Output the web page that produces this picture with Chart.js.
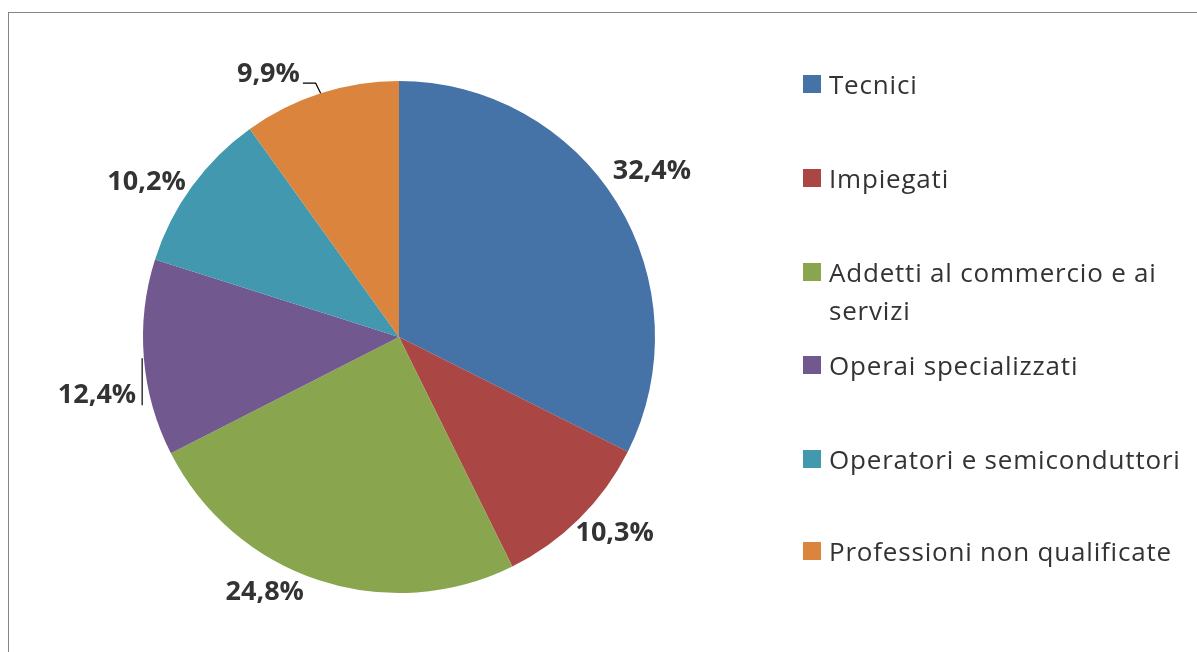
<!DOCTYPE html>
<html>
<head>
<meta charset="utf-8">
<script src="https://cdn.jsdelivr.net/npm/chart.js@4"></script>
<style>
    html, body { margin: 0; padding: 0; background: #fff; }
    #wrap { position: relative; width: 1197px; height: 652px; overflow: hidden; }
    #frame { position: absolute; left: 8px; top: 12px; width: 1300px; height: 800px; border: 1px solid #868686; }
    canvas { position: absolute; left: 0; top: 0; }
    #legend { position: absolute; left: 803px; top: 0; width: 390px; font-family: 'Open Sans', sans-serif; font-size: 26px; letter-spacing: 0.8px; color: #333; }
    .item { position: absolute; left: 0; display: flex; align-items: flex-start; line-height: 38px; width: 385px; }
    .box { flex: 0 0 18px; height: 18px; margin-top: 10px; margin-right: 8px; }
</style>
</head>
<body>
<div id="wrap">
    <div id="frame"></div>
    <canvas id="pie" width="1197" height="652"></canvas>
    <div id="legend"></div>
</div>
<script>
const categories = ['Tecnici', 'Impiegati', 'Addetti al commercio e ai servizi', 'Operai specializzati', 'Operatori e semiconduttori', 'Professioni non qualificate'];
const shares = [32.4, 10.3, 24.8, 12.4, 10.2, 9.9];
const colors = ['#4572A7', '#AA4643', '#89A54E', '#71588F', '#4198AF', '#DB843D'];

// label tweaks (px) from the default spot, and legend row tops
const labelNudge = [[1, -10], [7, -14], [-41, -26], [-7, 34], [-13, 19], [-40, 19]];
const legendTops = [65, 159, 253, 346, 440, 532];

const fmt = v => v.toFixed(1).replace('.', ',') + '%';

const pctLabels = {
    id: 'pctLabels',
    afterDatasetsDraw(chart) {
        const ctx = chart.ctx;
        const arcs = chart.getDatasetMeta(0).data;
        ctx.save();
        ctx.font = "bold 27px 'Open Sans', sans-serif";
        ctx.fillStyle = '#333';
        ctx.textAlign = 'center';
        ctx.textBaseline = 'middle';
        arcs.forEach((arc, i) => {
            const p = arc.getProps(['x', 'y', 'startAngle', 'endAngle', 'outerRadius']);
            const mid = (p.startAngle + p.endAngle) / 2;
            const d = p.outerRadius + 40;
            const lx = p.x + Math.cos(mid) * d + labelNudge[i][0];
            const ly = p.y + Math.sin(mid) * d + labelNudge[i][1];
            const txt = fmt(shares[i]);
            ctx.fillText(txt, lx, ly);
            const w = ctx.measureText(txt).width;
            const ex = p.x + Math.cos(mid) * p.outerRadius;
            const ey = p.y + Math.sin(mid) * p.outerRadius;
            ctx.strokeStyle = '#000';
            ctx.lineWidth = 1.2;
            if (i === 5) {
                ctx.beginPath();
                ctx.moveTo(lx + w / 2 + 3, ly + 9);
                ctx.lineTo(ex - 5, ly + 9);
                ctx.lineTo(ex, ey);
                ctx.stroke();
            } else if (i === 3) {
                ctx.beginPath();
                ctx.moveTo(lx + w / 2 + 6, ly - 37);
                ctx.lineTo(lx + w / 2 + 6, ly + 10);
                ctx.stroke();
            }
        });
        ctx.restore();
    }
};

const chart = new Chart(document.getElementById('pie'), {
    type: 'pie',
    data: {
        labels: categories,
        datasets: [{ data: shares, backgroundColor: colors, borderWidth: 0 }]
    },
    options: {
        responsive: false,
        animation: false,
        layout: { padding: { left: 143, right: 542, top: 81, bottom: 59 } },
        plugins: { legend: { display: false }, tooltip: { enabled: false } }
    },
    plugins: [pctLabels]
});

// legend built from the same arrays
const legendEl = document.getElementById('legend');
categories.forEach((c, i) => {
    const row = document.createElement('div');
    row.className = 'item';
    row.style.top = legendTops[i] + 'px';
    row.innerHTML = `<span class="box" style="background:${colors[i]}"></span><span>${c}</span>`;
    legendEl.appendChild(row);
});
</script>
</body>
</html>
